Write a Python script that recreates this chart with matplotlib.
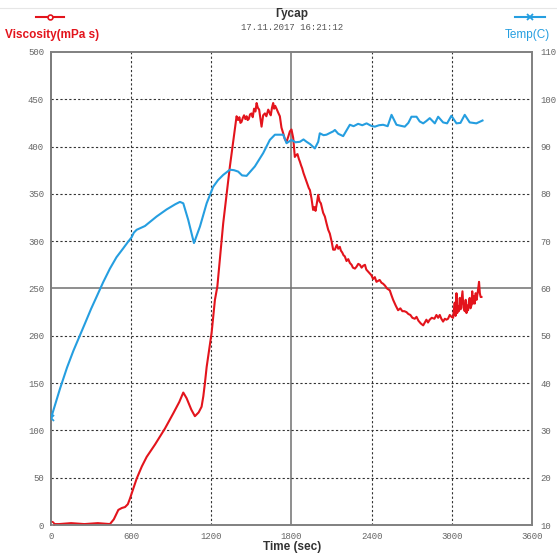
import numpy as np
import matplotlib.pyplot as plt
from matplotlib.lines import Line2D

# viscosity trace (time in s, mPa s)
visc_t = [0, 60, 150, 250, 350, 441, 470, 504, 530, 554, 575, 591, 615, 641, 680, 716, 778, 853, 915,
          960, 990, 1015, 1050, 1077, 1105, 1127, 1140, 1152, 1165, 1202, 1227, 1245, 1289, 1339,
          1389, 1400, 1410, 1418, 1426, 1435, 1445, 1455, 1464, 1472, 1480, 1490, 1501, 1510, 1520,
          1530, 1539, 1548, 1558, 1567, 1576, 1588, 1601, 1612, 1626, 1635, 1645, 1654,
          1663, 1670, 1678, 1688, 1700, 1713, 1725, 1738, 1750, 1763, 1775, 1788, 1800, 1813, 1825,
          1835, 1845, 1855, 1863, 1872, 1880, 1890, 1900, 1910, 1920, 1930, 1938, 1950,
          1962, 1972, 1980, 1990, 2000, 2010, 2020, 2030, 2037, 2050, 2062, 2075, 2087, 2100, 2112,
          2125, 2133, 2140, 2150, 2162, 2170, 2180, 2190, 2199, 2212, 2225, 2237, 2250,
          2260, 2275, 2287, 2300, 2312, 2325, 2337, 2350, 2360, 2373, 2386, 2398, 2411, 2424, 2436,
          2448, 2460, 2474, 2486, 2500, 2515, 2536, 2548, 2561, 2580, 2598, 2615, 2630,
          2645, 2661, 2675, 2690, 2705, 2723, 2736, 2750, 2768, 2786, 2798, 2810, 2822, 2835, 2850,
          2870, 2885, 2898, 2910, 2922, 2935, 2948, 2960, 2972, 2985, 2998, 3010, 3016, 3022,
          3028, 3035, 3041, 3047, 3053, 3060, 3066, 3072, 3080, 3087, 3097, 3104, 3110, 3116, 3122,
          3128, 3134, 3140, 3147, 3153, 3159, 3166, 3172, 3179, 3186, 3192, 3198, 3204, 3210, 3216,
          3222]
visc = [1, 1, 2, 1, 2, 1, 6, 16, 18, 19, 22, 28, 38, 49, 62, 72, 85, 102, 118,
        130, 140, 134, 122, 115, 119, 125, 136, 150, 167, 203, 238, 252, 319, 379,
        432, 428, 431, 425, 426, 430, 433, 429, 432, 428, 429, 434, 435, 431, 440,
        437, 446, 441, 439, 430, 421, 433, 435, 432, 439, 436, 433, 441,
        446, 440, 443, 440, 436, 432, 420, 414, 408, 405, 410, 416, 418, 409, 389,
        391, 392, 387, 384, 380, 377, 372, 368, 364, 360, 356, 354, 345,
        333, 336, 332, 340, 349, 342, 340, 334, 330, 326, 319, 312, 308, 300, 291,
        291, 294, 296, 292, 294, 290, 288, 285, 284, 279, 281, 277, 275,
        272, 271, 273, 276, 275, 272, 274, 275, 270, 268, 266, 264, 260, 262, 257,
        258, 259, 256, 255, 253, 250, 248, 243, 238, 232, 227, 229, 226,
        226, 225, 223, 222, 219, 218, 220, 216, 213, 211, 214, 217, 214, 217, 219,
        218, 222, 219, 222, 218, 215, 218, 217, 218, 222, 220, 219, 228, 235,
        221, 245, 224, 231, 226, 240, 228, 236, 247, 230, 226, 238, 224, 232, 227,
        236, 240, 229, 232, 247, 234, 242, 234, 245, 238, 244, 250, 257, 245, 241,
        241]

# temperature trace (time in s, deg C)
temp_t = [0, 67, 120, 167, 254, 300, 342, 390, 441, 490, 541, 575, 603, 620, 641, 703, 790, 865, 930,
          965, 990, 1027, 1070, 1115, 1165, 1214, 1250, 1289, 1339, 1370, 1401, 1430, 1464, 1526,
          1588, 1638, 1676, 1738, 1763, 1800, 1830, 1863, 1890, 1913, 1940, 1975, 2000, 2012, 2040,
          2062, 2090, 2112, 2125, 2150, 2187, 2237, 2265, 2299, 2330, 2362, 2395, 2424, 2455, 2486,
          2520, 2549, 2586, 2615, 2648, 2675, 2698, 2736, 2760, 2786, 2810, 2835, 2873, 2898,
          2935, 2965, 2997, 3035, 3065, 3097, 3134, 3160, 3184, 3230]
temp = [32.6, 38.8, 43.3, 46.8, 52.6, 55.7, 58.3, 61.3, 64.2, 66.6, 68.5, 69.8, 70.8, 71.8,
        72.4, 73.2, 75.2, 76.7, 77.8, 78.3, 78.0, 74.5, 69.6, 73.1, 78.0, 81.5, 82.9, 84.0, 85.1,
        85.0, 84.7, 83.9, 83.8, 85.8, 88.6, 91.4, 92.5, 92.5, 90.7, 91.4, 90.9, 91.0, 91.5, 91.0,
        90.5, 89.6, 91.0, 92.8, 92.4, 92.5, 92.9, 93.2, 93.5, 92.7, 92.2, 94.6, 94.3, 94.8, 94.5,
        94.9, 94.4, 94.2, 94.5, 94.6, 94.3, 96.7, 94.6, 94.4, 94.2, 95.0, 96.3, 96.3, 95.3, 94.9,
        95.4, 96.0, 94.9, 96.3, 95.1, 94.9, 96.5, 94.9, 95.0, 96.7, 95.1, 95.0, 94.9, 95.5]

x_ticks = [0, 600, 1200, 1800, 2400, 3000, 3600]
visc_ticks = list(range(0, 501, 50))
temp_ticks = list(range(10, 111, 10))

red = '#e3141c'
blue = '#259ee0'
tick_gray = '#666666'
mono = 'Liberation Mono'
sans = 'Liberation Sans'

fig = plt.figure(figsize=(5.57, 5.54), dpi=100)
ax = fig.add_axes([0.0916, 0.0523, 0.8634, 0.8540])
ax2 = ax.twinx()

ax.set_xlim(0, 3600)
ax.set_ylim(0, 500)
ax2.set_ylim(10, 110)

# dashed grid, with the centre lines drawn solid
for x in x_ticks[1:-1]:
    if x == 1800:
        ax.axvline(x, color='#707070', lw=1.1, zorder=1)
    else:
        ax.axvline(x, color='#333333', lw=0.8, ls=(0, (2, 2)), zorder=1)
for y in visc_ticks[1:-1]:
    if y == 250:
        ax.axhline(y, color='#707070', lw=1.1, zorder=1)
    else:
        ax.axhline(y, color='#333333', lw=0.8, ls=(0, (2, 2)), zorder=1)

ax.plot(visc_t, visc, color=red, lw=1.5, zorder=3)
ax.plot([visc_t[0]], [visc[0]], 'o', color=red, ms=4, mfc='white', mew=1.3, zorder=4)
ax2.plot(temp_t, temp, color=blue, lw=1.5, zorder=3)
ax2.plot([temp_t[0]], [temp[0]], 'x', color=blue, ms=4, mew=1.3, zorder=4)

ax.set_xticks(x_ticks)
ax.set_yticks(visc_ticks)
ax2.set_yticks(temp_ticks)
ax.tick_params(axis='both', length=0, pad=5, labelsize=6.5, labelcolor=tick_gray)
ax2.tick_params(axis='y', length=0, pad=6, labelsize=6.5, labelcolor=tick_gray)
for lab in ax.get_xticklabels() + ax.get_yticklabels() + ax2.get_yticklabels():
    lab.set_fontfamily(mono)

for a in (ax, ax2):
    for s in a.spines.values():
        s.set_color('#808080')
        s.set_linewidth(1.2)
ax.spines['left'].set_color('#555555')

# axis title sits just under the tick labels
fig.text(0.524, 0.0135, 'Time (sec)', ha='center', va='center', fontsize=8.5,
         fontweight='bold', color='#333333', family=sans)

# header: title, timestamp and the two series keys
fig.text(0.524, 0.974, 'Гусар', ha='center', va='center', fontsize=8.5, fontweight='bold',
         color='#333333', family=sans)
fig.text(0.524, 0.950, '17.11.2017 16:21:12', ha='center', va='center', fontsize=6.5,
         family=mono, color='#555555')
fig.add_artist(Line2D([0.065, 0.115], [0.969, 0.969], color=red, lw=1.5))
fig.add_artist(Line2D([0.09], [0.969], color=red, marker='o', ms=3.5, mfc='white', mew=1.2))
fig.text(0.093, 0.936, 'Viscosity(mPa s)', ha='center', va='center', fontsize=8.5,
         fontweight='bold', color=red, family=sans)
fig.add_artist(Line2D([0.925, 0.978], [0.969, 0.969], color=blue, lw=1.5))
fig.add_artist(Line2D([0.952], [0.969], color=blue, marker='x', ms=4, mew=1.3))
fig.text(0.947, 0.936, 'Temp(C)', ha='center', va='center', fontsize=8.5, color=blue,
         family=sans)
fig.add_artist(Line2D([0.0, 1.0], [0.986, 0.986], color='#e6e6e6', lw=0.8))

fig.savefig('out.png', dpi=100)
